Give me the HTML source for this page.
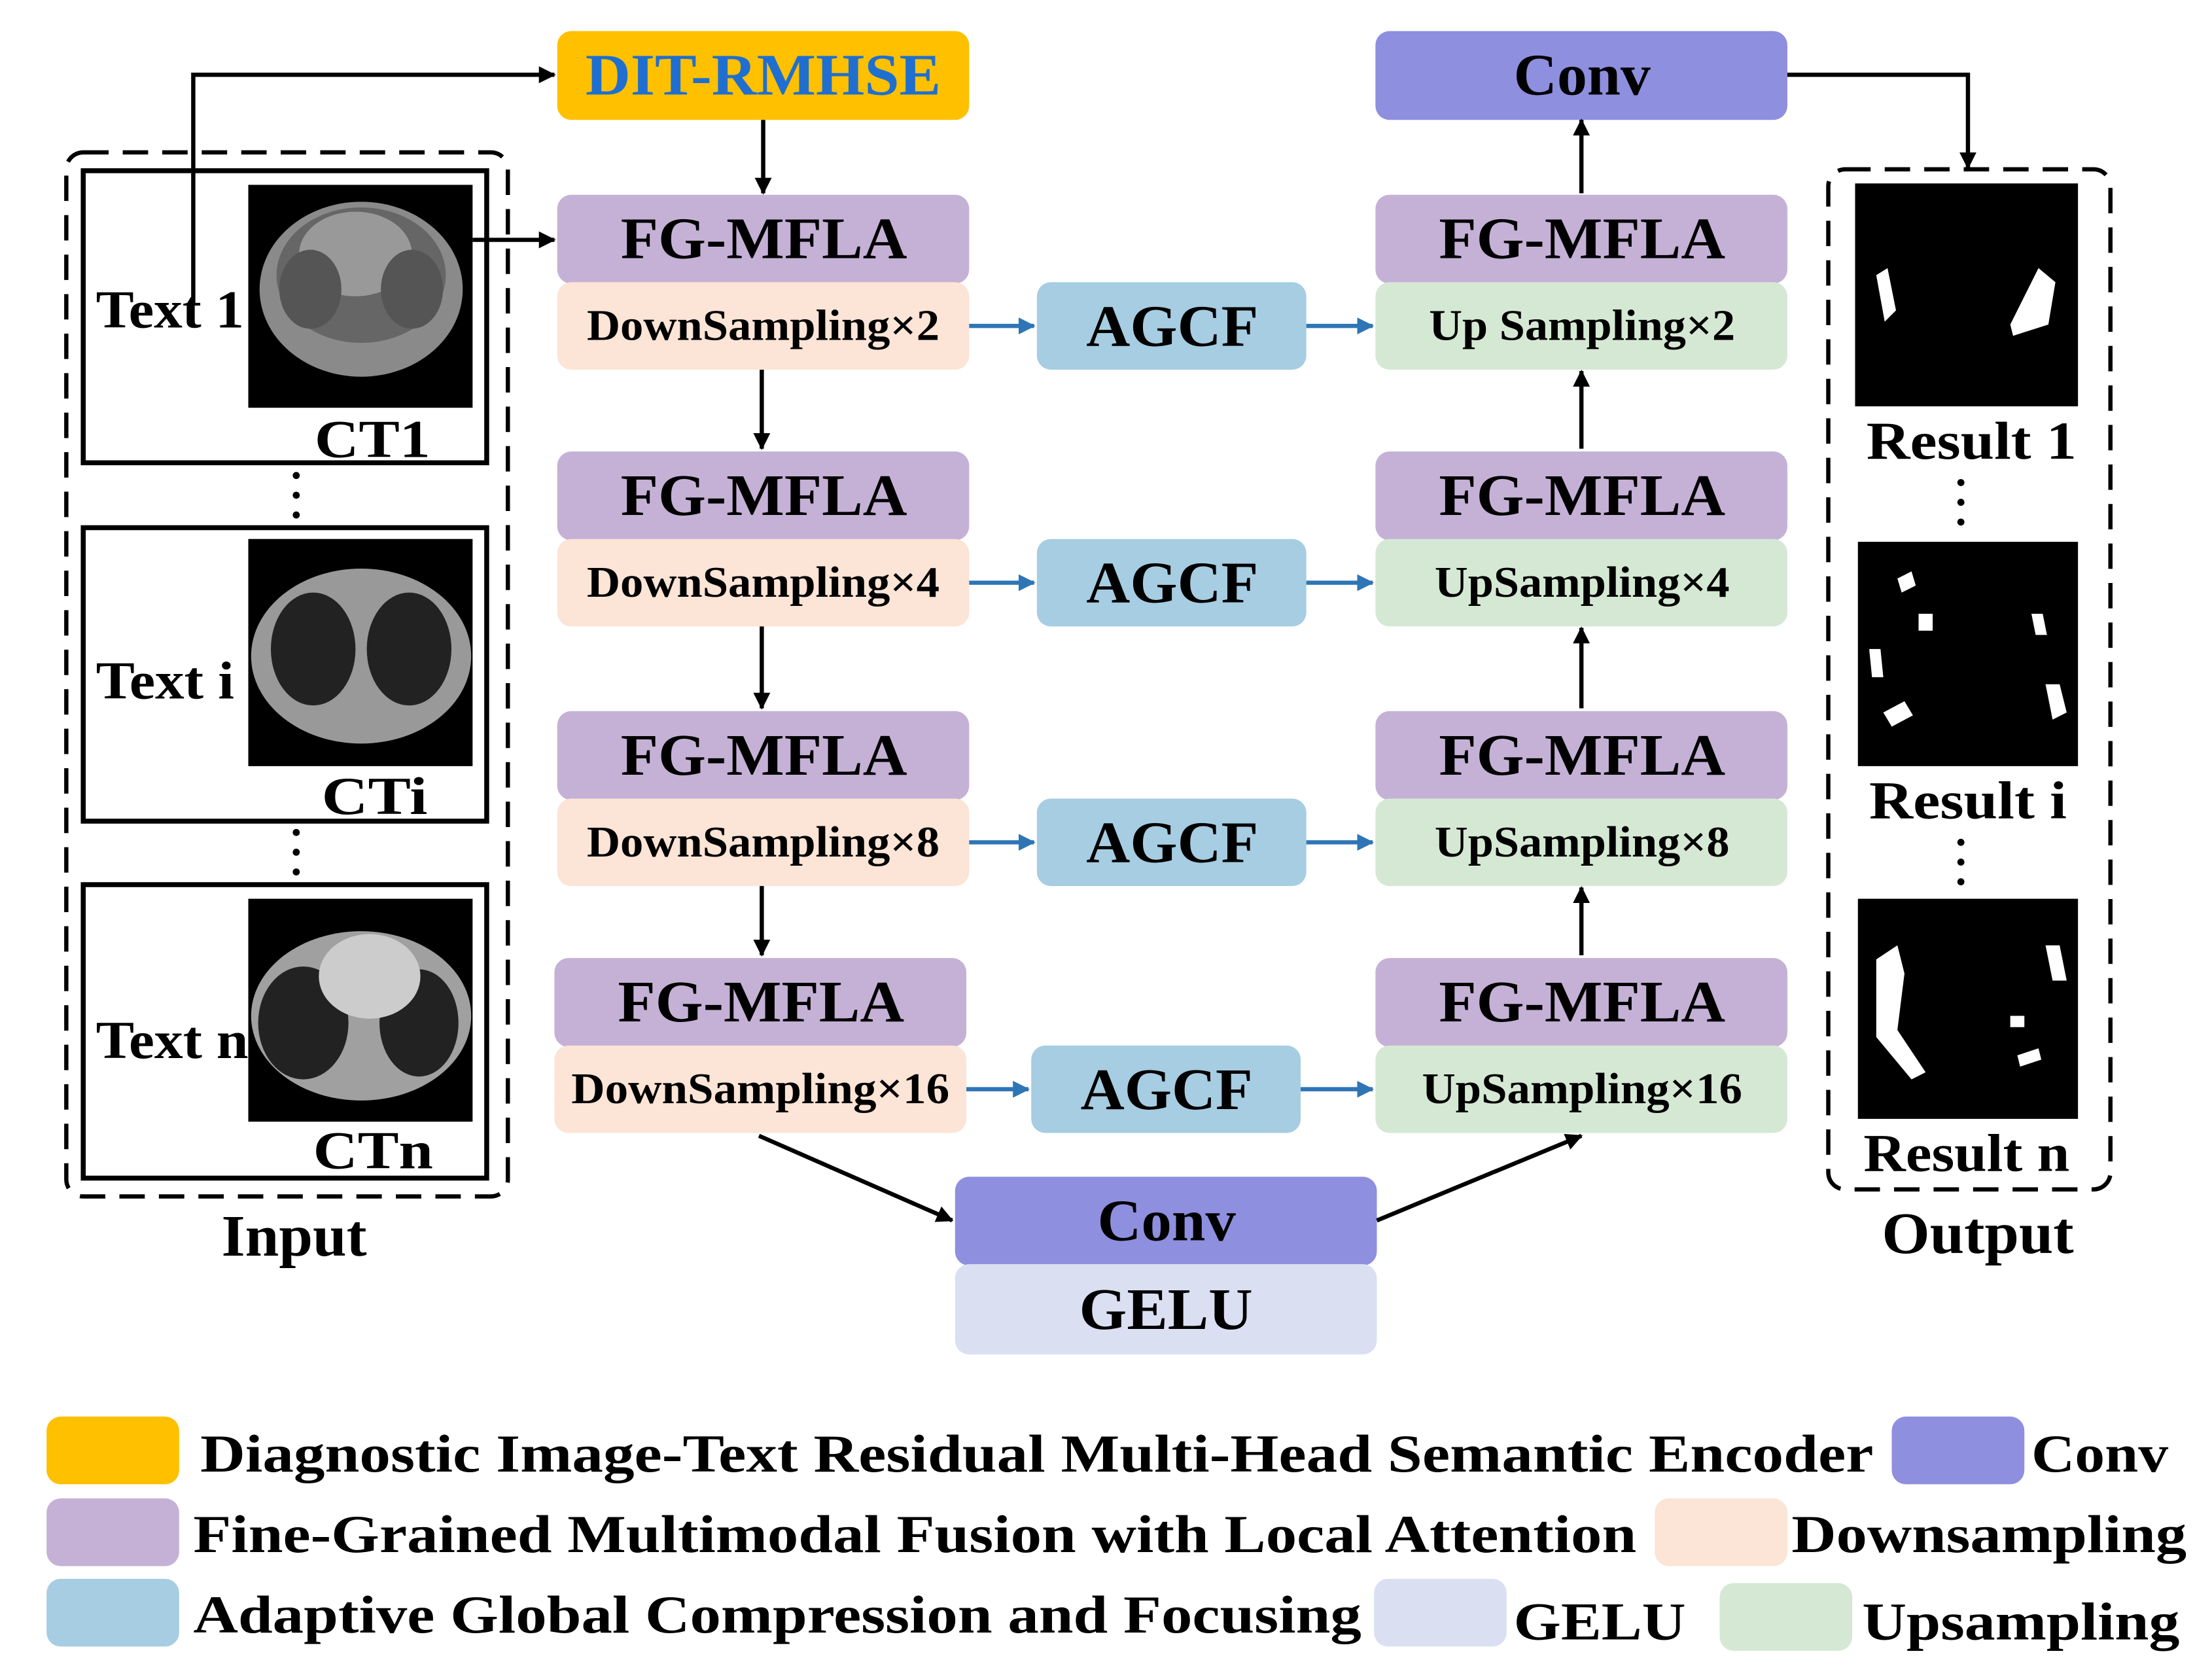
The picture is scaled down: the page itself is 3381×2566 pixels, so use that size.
<!DOCTYPE html>
<html><head><meta charset="utf-8"><style>
html,body{margin:0;padding:0;background:#fff}
svg{display:block}
text{font-family:"Liberation Serif",serif;font-weight:bold}
</style></head><body>
<svg width="3381" height="2566" viewBox="0 0 1568 1190" preserveAspectRatio="none" xmlns="http://www.w3.org/2000/svg">
<defs>
<marker id="ab2" markerWidth="12" markerHeight="12" refX="11" refY="6" orient="auto" markerUnits="userSpaceOnUse"><path d="M0,0 L12,6 L0,12 Z" fill="#000"/></marker>
<marker id="bl" markerWidth="12" markerHeight="12" refX="11" refY="6" orient="auto" markerUnits="userSpaceOnUse"><path d="M0,0 L12,6 L0,12 Z" fill="#2E75B6"/></marker>
</defs>
<rect width="1600" height="1200" fill="#fff"/>

<rect x="395" y="22" width="292" height="63" rx="10" fill="#FFC000"/>
<text x="415" y="67" font-size="42" textLength="252" lengthAdjust="spacingAndGlyphs" fill="#1F6FD0">DIT-RMHSE</text>
<rect x="975" y="22" width="292" height="63" rx="10" fill="#8E8FDE"/>
<text x="1073" y="67" font-size="42" textLength="97" lengthAdjust="spacingAndGlyphs">Conv</text>

<g font-size="42">
<rect x="395" y="138" width="292" height="63" rx="10" fill="#C5B1D6"/><text x="440" y="183" textLength="203" lengthAdjust="spacingAndGlyphs">FG-MFLA</text>
<rect x="395" y="320" width="292" height="63" rx="10" fill="#C5B1D6"/><text x="440" y="365" textLength="203" lengthAdjust="spacingAndGlyphs">FG-MFLA</text>
<rect x="395" y="504" width="292" height="63" rx="10" fill="#C5B1D6"/><text x="440" y="549" textLength="203" lengthAdjust="spacingAndGlyphs">FG-MFLA</text>
<rect x="393" y="679" width="292" height="63" rx="10" fill="#C5B1D6"/><text x="438" y="724" textLength="203" lengthAdjust="spacingAndGlyphs">FG-MFLA</text>
<rect x="975" y="138" width="292" height="63" rx="10" fill="#C5B1D6"/><text x="1020" y="183" textLength="203" lengthAdjust="spacingAndGlyphs">FG-MFLA</text>
<rect x="975" y="320" width="292" height="63" rx="10" fill="#C5B1D6"/><text x="1020" y="365" textLength="203" lengthAdjust="spacingAndGlyphs">FG-MFLA</text>
<rect x="975" y="504" width="292" height="63" rx="10" fill="#C5B1D6"/><text x="1020" y="549" textLength="203" lengthAdjust="spacingAndGlyphs">FG-MFLA</text>
<rect x="975" y="679" width="292" height="63" rx="10" fill="#C5B1D6"/><text x="1020" y="724" textLength="203" lengthAdjust="spacingAndGlyphs">FG-MFLA</text>
</g>
<g font-size="31">
<rect x="395" y="200" width="292" height="62" rx="10" fill="#FCE4D6"/><text x="416" y="241" textLength="250" lengthAdjust="spacingAndGlyphs">DownSampling×2</text>
<rect x="395" y="382" width="292" height="62" rx="10" fill="#FCE4D6"/><text x="416" y="423" textLength="250" lengthAdjust="spacingAndGlyphs">DownSampling×4</text>
<rect x="395" y="566" width="292" height="62" rx="10" fill="#FCE4D6"/><text x="416" y="607" textLength="250" lengthAdjust="spacingAndGlyphs">DownSampling×8</text>
<rect x="393" y="741" width="292" height="62" rx="10" fill="#FCE4D6"/><text x="405" y="782" textLength="268" lengthAdjust="spacingAndGlyphs">DownSampling×16</text>
<rect x="975" y="200" width="292" height="62" rx="10" fill="#D5E8D4"/><text x="1013" y="241" textLength="217" lengthAdjust="spacingAndGlyphs">Up Sampling×2</text>
<rect x="975" y="382" width="292" height="62" rx="10" fill="#D5E8D4"/><text x="1017" y="423" textLength="209" lengthAdjust="spacingAndGlyphs">UpSampling×4</text>
<rect x="975" y="566" width="292" height="62" rx="10" fill="#D5E8D4"/><text x="1017" y="607" textLength="209" lengthAdjust="spacingAndGlyphs">UpSampling×8</text>
<rect x="975" y="741" width="292" height="62" rx="10" fill="#D5E8D4"/><text x="1008" y="782" textLength="227" lengthAdjust="spacingAndGlyphs">UpSampling×16</text>
</g>
<g font-size="42">
<rect x="735" y="200" width="191" height="62" rx="10" fill="#A6CDE2"/><text x="770" y="245" textLength="122" lengthAdjust="spacingAndGlyphs">AGCF</text>
<rect x="735" y="382" width="191" height="62" rx="10" fill="#A6CDE2"/><text x="770" y="427" textLength="122" lengthAdjust="spacingAndGlyphs">AGCF</text>
<rect x="735" y="566" width="191" height="62" rx="10" fill="#A6CDE2"/><text x="770" y="611" textLength="122" lengthAdjust="spacingAndGlyphs">AGCF</text>
<rect x="731" y="741" width="191" height="62" rx="10" fill="#A6CDE2"/><text x="766" y="786" textLength="122" lengthAdjust="spacingAndGlyphs">AGCF</text>
<rect x="677" y="834" width="299" height="63" rx="10" fill="#8E8FDE"/><text x="778" y="879" textLength="98" lengthAdjust="spacingAndGlyphs">Conv</text>
<rect x="677" y="896" width="299" height="64" rx="10" fill="#DAE0F2"/><text x="765" y="942" textLength="123" lengthAdjust="spacingAndGlyphs">GELU</text>
</g>

<g stroke="#000" stroke-width="3" fill="none">
<path d="M137,215 V53 H393" marker-end="url(#ab2)"/>
<path d="M335,170 H393" marker-end="url(#ab2)"/>
<path d="M541,85 V137" marker-end="url(#ab2)"/>
<path d="M540,262 V318" marker-end="url(#ab2)"/>
<path d="M540,444 V502" marker-end="url(#ab2)"/>
<path d="M540,628 V677" marker-end="url(#ab2)"/>
<path d="M1121,137 V85" marker-end="url(#ab2)"/>
<path d="M1121,318 V263" marker-end="url(#ab2)"/>
<path d="M1121,502 V445" marker-end="url(#ab2)"/>
<path d="M1121,677 V629" marker-end="url(#ab2)"/>
<path d="M1267,53 H1395 V119" marker-end="url(#ab2)"/>
<path d="M538,805 L675,865" marker-end="url(#ab2)"/>
<path d="M976,865 L1121,805" marker-end="url(#ab2)"/>
</g>
<g stroke="#2E75B6" stroke-width="3" fill="none">
<path d="M687,231 H733" marker-end="url(#bl)"/><path d="M926,231 H973" marker-end="url(#bl)"/>
<path d="M687,413 H733" marker-end="url(#bl)"/><path d="M926,413 H973" marker-end="url(#bl)"/>
<path d="M687,597 H733" marker-end="url(#bl)"/><path d="M926,597 H973" marker-end="url(#bl)"/>
<path d="M685,772 H729" marker-end="url(#bl)"/><path d="M922,772 H973" marker-end="url(#bl)"/>
</g>

<rect x="47" y="108" width="313" height="740" rx="12" fill="none" stroke="#000" stroke-width="3" stroke-dasharray="18,10"/>
<g fill="none" stroke="#000" stroke-width="3.5">
<rect x="59" y="121" width="286" height="207"/>
<rect x="59" y="374" width="286" height="208"/>
<rect x="59" y="627" width="286" height="208"/>
</g>
<rect x="176" y="131" width="159" height="158" fill="#000"/>
<ellipse cx="256" cy="205" rx="72" ry="62" fill="#8a8a8a"/>
<ellipse cx="256" cy="195" rx="60" ry="48" fill="#666"/>
<ellipse cx="252" cy="180" rx="40" ry="30" fill="#999"/>
<ellipse cx="220" cy="205" rx="22" ry="28" fill="#555"/><ellipse cx="292" cy="205" rx="22" ry="28" fill="#555"/>
<rect x="176" y="382" width="159" height="161" fill="#000"/>
<ellipse cx="256" cy="465" rx="78" ry="62" fill="#999"/>
<ellipse cx="222" cy="460" rx="30" ry="40" fill="#222"/><ellipse cx="290" cy="460" rx="30" ry="40" fill="#222"/>
<rect x="176" y="637" width="159" height="158" fill="#000"/>
<ellipse cx="256" cy="720" rx="78" ry="60" fill="#a0a0a0"/>
<ellipse cx="215" cy="725" rx="32" ry="40" fill="#222"/><ellipse cx="297" cy="725" rx="28" ry="38" fill="#222"/>
<ellipse cx="262" cy="692" rx="36" ry="30" fill="#ccc"/>
<g font-size="38">
<text x="68" y="232" textLength="105" lengthAdjust="spacingAndGlyphs">Text 1</text>
<text x="68" y="495" textLength="98" lengthAdjust="spacingAndGlyphs">Text i</text>
<text x="68" y="750" textLength="108" lengthAdjust="spacingAndGlyphs">Text n</text>
<text x="223" y="324" textLength="82" lengthAdjust="spacingAndGlyphs">CT1</text>
<text x="228" y="577" textLength="75" lengthAdjust="spacingAndGlyphs">CTi</text>
<text x="222" y="828" textLength="85" lengthAdjust="spacingAndGlyphs">CTn</text>
<text x="157" y="890" font-size="42" textLength="103" lengthAdjust="spacingAndGlyphs">Input</text>
</g>
<g fill="#000"><circle cx="210" cy="337" r="2.5"/><circle cx="210" cy="351" r="2.5"/><circle cx="210" cy="365" r="2.5"/>
<circle cx="210" cy="590" r="2.5"/><circle cx="210" cy="604" r="2.5"/><circle cx="210" cy="618" r="2.5"/>
<circle cx="1390" cy="342" r="2.5"/><circle cx="1390" cy="356" r="2.5"/><circle cx="1390" cy="370" r="2.5"/>
<circle cx="1390" cy="597" r="2.5"/><circle cx="1390" cy="611" r="2.5"/><circle cx="1390" cy="625" r="2.5"/></g>

<rect x="1296" y="120" width="200" height="723" rx="12" fill="none" stroke="#000" stroke-width="3" stroke-dasharray="18,10"/>
<rect x="1315" y="130" width="158" height="158" fill="#000"/>
<path d="M1330,195 l8,-5 l6,30 l-8,8z M1425,230 l20,-40 l12,10 l-5,30 l-25,8z" fill="#fff"/>
<rect x="1317" y="384" width="156" height="159" fill="#000"/>
<path d="M1345,410 l10,-5 l3,10 l-10,5z M1360,435 l10,0 l0,12 l-10,0z M1440,435 l8,0 l3,15 l-8,0z M1325,460 l8,0 l2,20 l-8,0z M1335,505 l15,-8 l6,10 l-15,8z M1450,485 l10,0 l5,20 l-10,5z" fill="#fff"/>
<rect x="1317" y="637" width="156" height="156" fill="#000"/>
<path d="M1330,680 l15,-10 l5,20 l-5,40 l20,30 l-10,5 l-25,-30z M1450,670 l10,0 l5,25 l-10,0z M1425,720 l10,0 l0,8 l-10,0z M1430,748 l15,-5 l2,8 l-15,5z" fill="#fff"/>
<g font-size="38">
<text x="1323" y="325" textLength="149" lengthAdjust="spacingAndGlyphs">Result 1</text>
<text x="1325" y="580" textLength="140" lengthAdjust="spacingAndGlyphs">Result i</text>
<text x="1321" y="830" textLength="146" lengthAdjust="spacingAndGlyphs">Result n</text>
<text x="1334" y="888" font-size="42" textLength="136" lengthAdjust="spacingAndGlyphs">Output</text>
</g>

<rect x="33" y="1004" width="94" height="48" rx="10" fill="#FFC000"/>
<rect x="1341" y="1004" width="94" height="48" rx="10" fill="#8E8FDE"/>
<rect x="33" y="1062" width="94" height="48" rx="10" fill="#C5B1D6"/>
<rect x="1173" y="1062" width="94" height="48" rx="10" fill="#FCE4D6"/>
<rect x="33" y="1119" width="94" height="48" rx="10" fill="#A6CDE2"/>
<rect x="974" y="1119" width="94" height="48" rx="10" fill="#DAE0F2"/>
<rect x="1219" y="1122" width="94" height="48" rx="10" fill="#D5E8D4"/>
<g font-size="38">
<text x="142" y="1043" textLength="1186" lengthAdjust="spacingAndGlyphs">Diagnostic Image-Text Residual Multi-Head Semantic Encoder</text>
<text x="1440" y="1043" textLength="97" lengthAdjust="spacingAndGlyphs">Conv</text>
<text x="137" y="1100" textLength="1023" lengthAdjust="spacingAndGlyphs">Fine-Grained Multimodal Fusion with Local Attention</text>
<text x="1270" y="1100" textLength="280" lengthAdjust="spacingAndGlyphs">Downsampling</text>
<text x="137" y="1157" textLength="828" lengthAdjust="spacingAndGlyphs">Adaptive Global Compression and Focusing</text>
<text x="1073" y="1162" textLength="122" lengthAdjust="spacingAndGlyphs">GELU</text>
<text x="1320" y="1162" textLength="225" lengthAdjust="spacingAndGlyphs">Upsampling</text>
</g>
</svg>
</body></html>
